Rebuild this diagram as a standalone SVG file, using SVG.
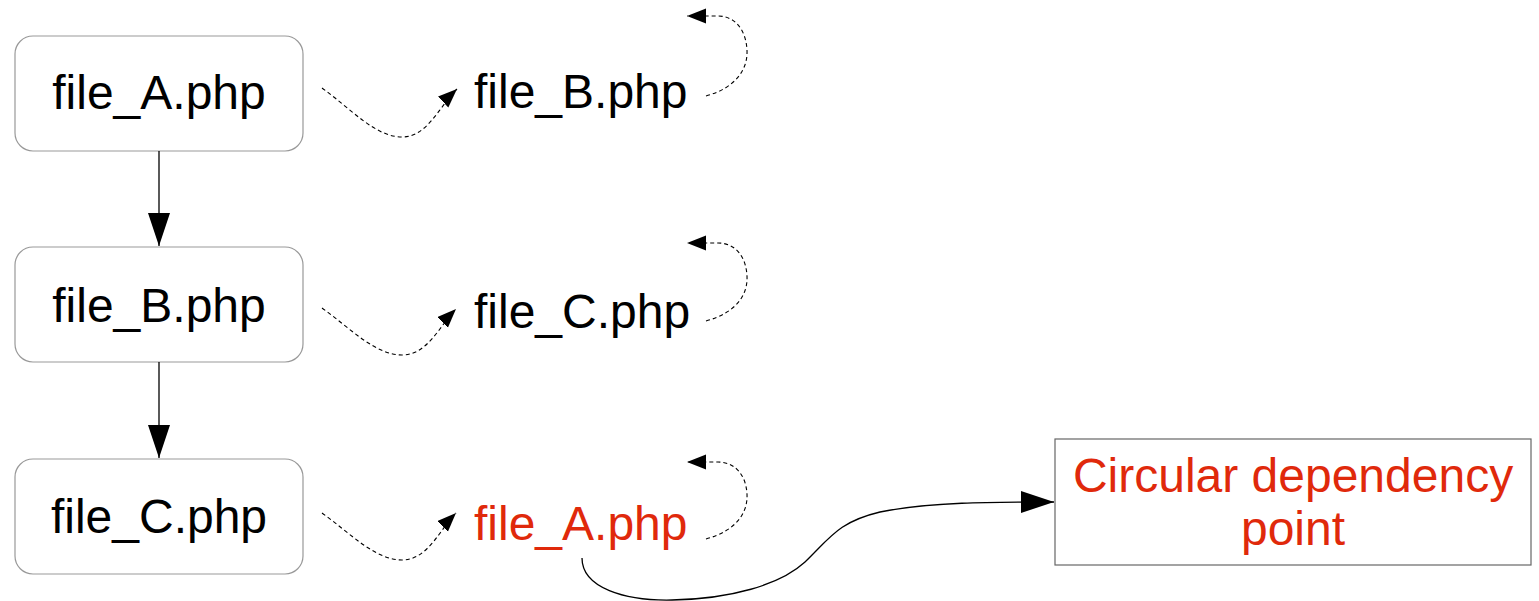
<svg xmlns="http://www.w3.org/2000/svg" width="1539" height="601" viewBox="0 0 1539 601">
<style>
  .box { fill: #ffffff; stroke: #999999; stroke-width: 1.2; }
  .lbl { font-family: "Liberation Sans", Arial, sans-serif; font-size: 48px; fill: #000000; }
  .red { fill: #e0290b; }
  .mid { text-anchor: middle; }
  .solid { fill: none; stroke: #000000; stroke-width: 1.3; }
  .dash { fill: none; stroke: #000000; stroke-width: 1.1; stroke-dasharray: 4 3; }
</style>
<defs>
  <marker id="bigArrow" markerUnits="userSpaceOnUse" markerWidth="34" markerHeight="24" refX="33" refY="11" orient="auto">
    <path d="M0,0 L33,11 L0,22 Z" fill="#000000"/>
  </marker>
  <marker id="smallArrow" markerUnits="userSpaceOnUse" markerWidth="20" markerHeight="16" refX="19" refY="7.5" orient="auto">
    <path d="M0,0 L19,7.5 L0,15 Z" fill="#000000"/>
  </marker>
</defs>

<g id="node-fileA">
  <rect class="box" x="15" y="36" width="288" height="115" rx="18"/>
  <text class="lbl mid" x="159" y="109">file_A.php</text>
</g>
<g id="node-fileB">
  <rect class="box" x="15" y="247" width="288" height="115" rx="18"/>
  <text class="lbl mid" x="159" y="322">file_B.php</text>
</g>
<g id="node-fileC">
  <rect class="box" x="15" y="459" width="288" height="115" rx="18"/>
  <text class="lbl mid" x="159" y="533">file_C.php</text>
</g>
<g id="label-includeB">
  <text class="lbl" x="474" y="108">file_B.php</text>
</g>
<g id="label-includeC">
  <text class="lbl" x="474" y="328">file_C.php</text>
</g>
<g id="label-includeA">
  <text class="lbl red" x="474" y="540">file_A.php</text>
</g>
<g id="node-circular">
  <rect x="1055" y="439" width="476" height="126" fill="#ffffff" stroke="#666666" stroke-width="1.2"/>
  <text class="lbl red mid" x="1293" y="492">Circular dependency</text>
  <text class="lbl red mid" x="1293" y="545">point</text>
</g>

<g id="connectors">
  <path class="solid" d="M159,151 L159,246" marker-end="url(#bigArrow)"/>
  <path class="solid" d="M159,362 L159,458" marker-end="url(#bigArrow)"/>

  <path class="dash" d="M322,88 C350,108 375,137 402,137 C428,137 440,105 457,89" marker-end="url(#smallArrow)"/>
  <path class="dash" d="M322,308 C350,328 375,355 402,355 C428,355 440,325 456,309" marker-end="url(#smallArrow)"/>
  <path class="dash" d="M322,513 C350,533 375,560 402,560 C428,560 440,529 456,513" marker-end="url(#smallArrow)"/>

  <path class="dash" d="M706,96 C735,88 748,70 747,50 C746,30 735,16 718,16 L687,16" marker-end="url(#smallArrow)"/>
  <path class="dash" d="M706,321 C735,313 748,296 747,276 C746,256 735,243 718,243 L687,243" marker-end="url(#smallArrow)"/>
  <path class="dash" d="M706,539 C735,531 748,514 747,494 C746,475 735,462 718,462 L687,462" marker-end="url(#smallArrow)"/>

  <path class="solid" d="M582,558 C582,588 625,601 672,600 C730,599 780,585 805,562 C830,538 838,522 880,512 C930,502 990,502 1054,502" marker-end="url(#bigArrow)"/>
</g>
</svg>
